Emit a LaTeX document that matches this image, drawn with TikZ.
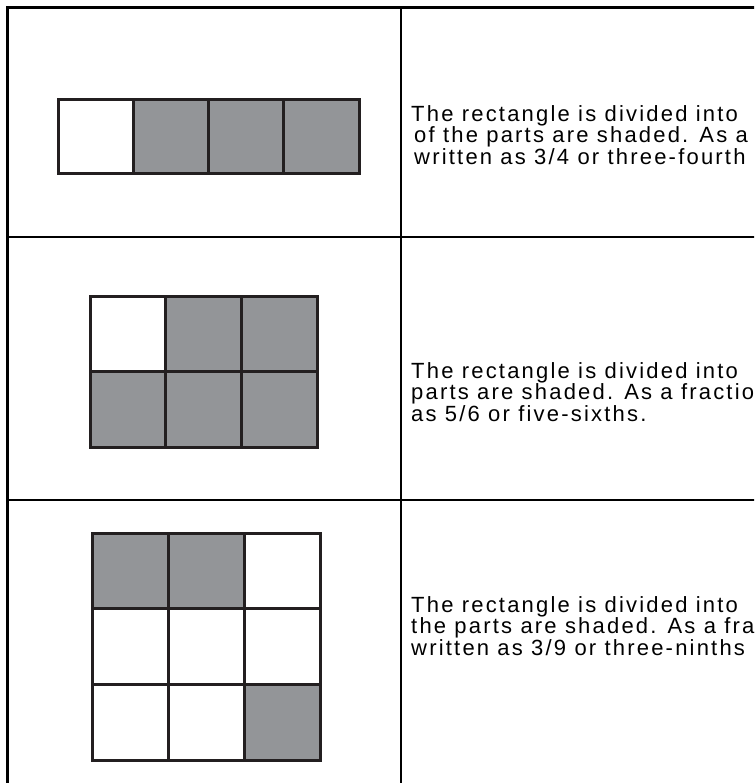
\documentclass[tikz,border=0pt]{standalone}
\usepackage{fontspec}
\newfontfamily\txtfont{Liberation Sans}[LetterSpace=10]
\definecolor{shade}{HTML}{939598}
\definecolor{edge}{HTML}{231F20}
\tikzset{
  x=1pt, y=-1pt,
  frame/.style={line width=2.8pt, black},
  inner/.style={line width=2.2pt, black},
  cellw/.style={fill=white, draw=edge, line width=3pt},
  cellg/.style={fill=shade, draw=edge, line width=3pt},
  desc/.style={anchor=north west, align=left, inner sep=0pt,
    font=\txtfont\fontsize{22}{19.5}\selectfont}
}
\begin{document}
\begin{tikzpicture}
\useasboundingbox (0,0) rectangle (754,783);
\clip (0,0) rectangle (754,783);
% table lines
\draw[frame] (7.5,800) -- (7.5,7.5) -- (760,7.5);
\draw[frame] (7.5,237) -- (760,237);
\draw[inner] (7.5,500) -- (760,500);
\draw[inner] (401,7.5) -- (401,800);
% row 1: 1x4
\foreach \i/\s in {0/cellw,1/cellg,2/cellg,3/cellg}{
  \draw[\s] (58+75.25*\i,100) rectangle ++(75.25,74);
}
% row 2: 2x3
\foreach \r/\c/\s in {0/0/cellw,0/1/cellg,0/2/cellg,1/0/cellg,1/1/cellg,1/2/cellg}{
  \draw[\s] (90+75.67*\c,296+75.5*\r) rectangle ++(75.67,75.5);
}
% row 3: 3x3
\foreach \r/\c/\s in {0/0/cellg,0/1/cellg,0/2/cellw,1/0/cellw,1/1/cellw,1/2/cellw,2/0/cellw,2/1/cellw,2/2/cellg}{
  \draw[\s] (92+76.33*\c,533+75.67*\r) rectangle ++(76.33,75.67);
}
% texts
\node[desc] (t1) at (411,105) {The rectangle is divided into\\\hspace{3pt}of the parts are shaded. As a\\\hspace{3pt}written as 3/4 or three-fourth};
\node[desc] (t2) at (411,362) {The rectangle is divided into\\parts are shaded. As a fractio\\as 5/6 or five-sixths.};
\node[desc] (t3) at (411,596) {The rectangle is divided into\\the parts are shaded. As a fra\\written as 3/9 or three-ninths};
\end{tikzpicture}
\end{document}
